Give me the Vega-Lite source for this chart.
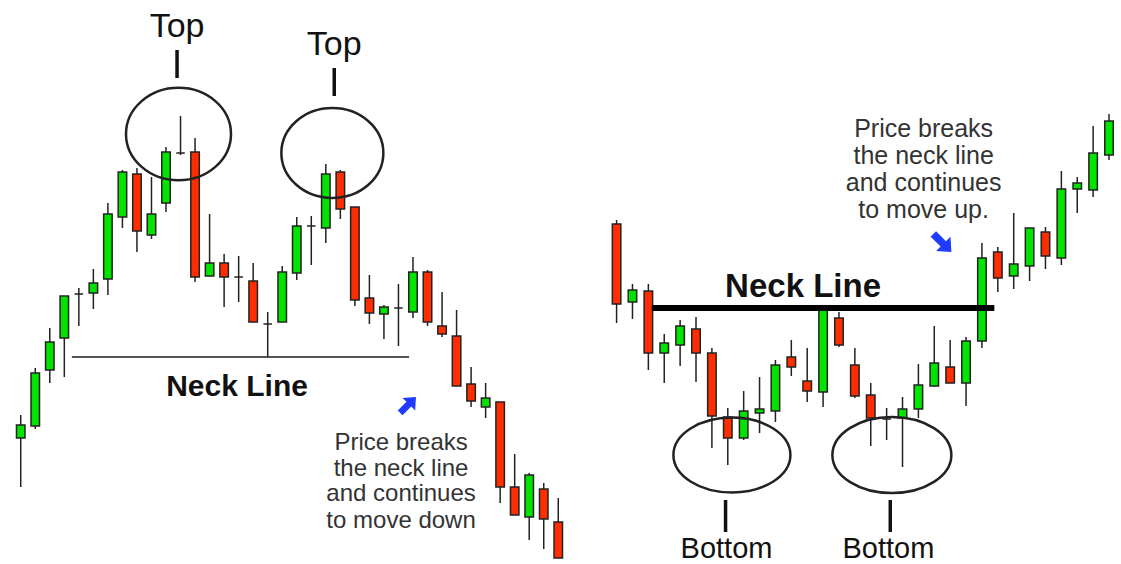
{
  "$schema": "https://vega.github.io/schema/vega-lite/v6.json",
  "padding": 0,
  "spacing": 0,
  "bounds": "flush",
  "background": "white",
  "config": {"view": {"stroke": null}, "text": {"font": "Liberation Sans"}},
  "datasets": {
    "left": [
      {"i":1,"o":126,"h":149,"l":77,"c":139},
      {"i":2,"o":138,"h":196,"l":135,"c":191},
      {"i":3,"o":194,"h":236,"l":181,"c":222},
      {"i":4,"o":226,"h":268,"l":187,"c":268},
      {"i":5,"o":270,"h":276,"l":238,"c":270},
      {"i":6,"o":271,"h":295,"l":255,"c":281},
      {"i":7,"o":285,"h":361,"l":269,"c":350},
      {"i":8,"o":347,"h":394,"l":336,"c":392},
      {"i":9,"o":390,"h":396,"l":312,"c":333},
      {"i":10,"o":329,"h":387,"l":325,"c":350},
      {"i":11,"o":361,"h":417,"l":352,"c":412},
      {"i":12,"o":411,"h":448,"l":409,"c":411},
      {"i":13,"o":412,"h":426,"l":282,"c":287},
      {"i":14,"o":288,"h":350,"l":288,"c":301},
      {"i":15,"o":301,"h":310,"l":257,"c":287},
      {"i":16,"o":287,"h":308,"l":262,"c":287},
      {"i":17,"o":283,"h":301,"l":242,"c":242},
      {"i":18,"o":240,"h":252,"l":207,"c":240},
      {"i":19,"o":242,"h":298,"l":242,"c":292},
      {"i":20,"o":291,"h":347,"l":284,"c":338},
      {"i":21,"o":338,"h":348,"l":299,"c":338},
      {"i":22,"o":336,"h":400,"l":321,"c":390},
      {"i":23,"o":392,"h":394,"l":345,"c":355},
      {"i":24,"o":357,"h":357,"l":258,"c":264},
      {"i":25,"o":266,"h":289,"l":240,"c":251},
      {"i":26,"o":250,"h":259,"l":225,"c":257},
      {"i":27,"o":256,"h":280,"l":218,"c":256},
      {"i":28,"o":252,"h":307,"l":246,"c":292},
      {"i":29,"o":292,"h":294,"l":238,"c":242},
      {"i":30,"o":238,"h":272,"l":227,"c":230},
      {"i":31,"o":228,"h":254,"l":178,"c":178},
      {"i":32,"o":180,"h":197,"l":157,"c":163},
      {"i":33,"o":157,"h":181,"l":146,"c":166},
      {"i":34,"o":162,"h":162,"l":61,"c":77},
      {"i":35,"o":77,"h":110,"l":49,"c":49},
      {"i":36,"o":47,"h":91,"l":24,"c":89},
      {"i":37,"o":75,"h":81,"l":15,"c":45},
      {"i":38,"o":42,"h":66,"l":6,"c":6}
    ],
    "right": [
      {"i":1,"o":340,"h":344,"l":241,"c":260},
      {"i":2,"o":262,"h":280,"l":245,"c":274},
      {"i":3,"o":273,"h":280,"l":194,"c":211},
      {"i":4,"o":211,"h":230,"l":181,"c":221},
      {"i":5,"o":219,"h":244,"l":198,"c":238},
      {"i":6,"o":235,"h":247,"l":182,"c":211},
      {"i":7,"o":211,"h":216,"l":116,"c":148},
      {"i":8,"o":147,"h":156,"l":99,"c":126},
      {"i":9,"o":126,"h":173,"l":124,"c":153},
      {"i":10,"o":151,"h":187,"l":131,"c":155},
      {"i":11,"o":153,"h":204,"l":142,"c":199},
      {"i":12,"o":207,"h":224,"l":188,"c":197},
      {"i":13,"o":183,"h":216,"l":162,"c":173},
      {"i":14,"o":172,"h":254,"l":157,"c":254},
      {"i":15,"o":246,"h":252,"l":217,"c":219},
      {"i":16,"o":199,"h":216,"l":166,"c":168},
      {"i":17,"o":169,"h":181,"l":118,"c":146},
      {"i":18,"o":145,"h":156,"l":124,"c":145},
      {"i":19,"o":146,"h":167,"l":97,"c":155},
      {"i":20,"o":155,"h":200,"l":146,"c":179},
      {"i":21,"o":178,"h":238,"l":177,"c":201},
      {"i":22,"o":197,"h":224,"l":181,"c":181},
      {"i":23,"o":181,"h":227,"l":158,"c":223},
      {"i":24,"o":223,"h":321,"l":216,"c":306},
      {"i":25,"o":312,"h":317,"l":272,"c":286},
      {"i":26,"o":288,"h":351,"l":275,"c":300},
      {"i":27,"o":298,"h":336,"l":283,"c":336},
      {"i":28,"o":332,"h":337,"l":295,"c":308},
      {"i":29,"o":306,"h":393,"l":299,"c":375},
      {"i":30,"o":375,"h":387,"l":351,"c":381},
      {"i":31,"o":374,"h":438,"l":367,"c":411},
      {"i":32,"o":409,"h":450,"l":404,"c":443}
    ]
  },
  "hconcat": [
    {
      "width": 590,
      "height": 564,
      "layer": [
        {
          "data": {"values": [{"i": 4.52, "i2": 27.73, "p": 207}]},
          "mark": {"type": "rule", "color": "#555555", "strokeWidth": 2},
          "encoding": {
            "x": {"field": "i", "type": "quantitative", "scale": {"domain": [-0.0825, 39.84], "nice": false, "zero": false}, "axis": null},
            "x2": {"field": "i2"},
            "y": {"field": "p", "type": "quantitative", "scale": {"domain": [0, 564], "nice": false, "zero": false}, "axis": null}
          }
        },
        {
          "data": {"name": "left"},
          "mark": {"type": "rule", "color": "#222222", "strokeWidth": 1.5},
          "encoding": {
            "x": {"field": "i", "type": "quantitative", "scale": {"domain": [-0.0825, 39.84], "nice": false, "zero": false}, "axis": null},
            "y": {"field": "l", "type": "quantitative", "scale": {"domain": [0, 564], "nice": false, "zero": false}, "axis": null},
            "y2": {"field": "h"}
          }
        },
        {
          "data": {"name": "left"},
          "mark": {"type": "bar", "size": 8.5, "stroke": "#222222", "strokeWidth": 1.5},
          "encoding": {
            "x": {"field": "i", "type": "quantitative", "scale": {"domain": [-0.0825, 39.84], "nice": false, "zero": false}, "axis": null},
            "y": {"field": "o", "type": "quantitative", "scale": {"domain": [0, 564], "nice": false, "zero": false}, "axis": null},
            "y2": {"field": "c"},
            "fill": {"condition": {"test": "datum.c >= datum.o", "value": "#00e400"}, "value": "#ff2d00"}
          }
        },
        {
          "data": {"values": [{"i": 11.86, "p": 430, "s": 11025}, {"i": 22.45, "p": 411, "s": 10404}]},
          "mark": {"type": "point", "shape": "M -1 0 A 1 0.88 0 1 1 1 0 A 1 0.88 0 1 1 -1 0 Z", "filled": false, "stroke": "#222222", "strokeWidth": 2.5, "opacity": 1},
          "encoding": {
            "x": {"field": "i", "type": "quantitative", "scale": {"domain": [-0.0825, 39.84], "nice": false, "zero": false}, "axis": null},
            "y": {"field": "p", "type": "quantitative", "scale": {"domain": [0, 564], "nice": false, "zero": false}, "axis": null},
            "size": {"field": "s", "type": "quantitative", "scale": null, "legend": null}
          }
        },
        {
          "data": {"values": [{"i": 11.76, "p": 514, "p2": 486}, {"i": 22.58, "p": 496, "p2": 468}]},
          "mark": {"type": "rule", "color": "#111111", "strokeWidth": 3.5},
          "encoding": {
            "x": {"field": "i", "type": "quantitative", "scale": {"domain": [-0.0825, 39.84], "nice": false, "zero": false}, "axis": null},
            "y": {"field": "p", "type": "quantitative", "scale": {"domain": [0, 564], "nice": false, "zero": false}, "axis": null},
            "y2": {"field": "p2"}
          }
        },
        {
          "data": {"values": [{"t": "Top", "i": 11.76, "p": 527}, {"t": "Top", "i": 22.58, "p": 509}]},
          "mark": {"type": "text", "fontSize": 34, "align": "center", "baseline": "alphabetic", "color": "#111111"},
          "encoding": {
            "x": {"field": "i", "type": "quantitative", "scale": {"domain": [-0.0825, 39.84], "nice": false, "zero": false}, "axis": null},
            "y": {"field": "p", "type": "quantitative", "scale": {"domain": [0, 564], "nice": false, "zero": false}, "axis": null},
            "text": {"field": "t"}
          }
        },
        {
          "data": {"values": [{"t": "Neck Line", "i": 15.89, "p": 168}]},
          "mark": {"type": "text", "fontSize": 30, "fontWeight": "bold", "align": "center", "baseline": "alphabetic", "color": "#111111"},
          "encoding": {
            "x": {"field": "i", "type": "quantitative", "scale": {"domain": [-0.0825, 39.84], "nice": false, "zero": false}, "axis": null},
            "y": {"field": "p", "type": "quantitative", "scale": {"domain": [0, 564], "nice": false, "zero": false}, "axis": null},
            "text": {"field": "t"}
          }
        },
        {
          "data": {"values": [
            {"t": "Price breaks", "i": 27.18, "p": 114},
            {"t": "the neck line", "i": 27.18, "p": 88},
            {"t": "and continues", "i": 27.18, "p": 63},
            {"t": "to move down", "i": 27.18, "p": 36}
          ]},
          "mark": {"type": "text", "fontSize": 24, "align": "center", "baseline": "alphabetic", "color": "#333333"},
          "encoding": {
            "x": {"field": "i", "type": "quantitative", "scale": {"domain": [-0.0825, 39.84], "nice": false, "zero": false}, "axis": null},
            "y": {"field": "p", "type": "quantitative", "scale": {"domain": [0, 564], "nice": false, "zero": false}, "axis": null},
            "text": {"field": "t"}
          }
        },
        {
          "data": {"values": [{"i": 27.66, "p": 159}]},
          "mark": {"type": "point", "shape": "M -1 -0.3 L 0.1 -0.3 L 0.1 -0.8 L 1 0 L 0.1 0.8 L 0.1 0.3 L -1 0.3 Z", "filled": true, "color": "#1e3bff", "opacity": 1, "size": 500, "angle": -45},
          "encoding": {
            "x": {"field": "i", "type": "quantitative", "scale": {"domain": [-0.0825, 39.84], "nice": false, "zero": false}, "axis": null},
            "y": {"field": "p", "type": "quantitative", "scale": {"domain": [0, 564], "nice": false, "zero": false}, "axis": null}
          }
        }
      ]
    },
    {
      "width": 531,
      "height": 564,
      "layer": [
        {
          "data": {"name": "right"},
          "mark": {"type": "rule", "color": "#222222", "strokeWidth": 1.5},
          "encoding": {
            "x": {"field": "i", "type": "quantitative", "scale": {"domain": [-0.359, 32.44], "nice": false, "zero": false}, "axis": null},
            "y": {"field": "l", "type": "quantitative", "scale": {"domain": [0, 564], "nice": false, "zero": false}, "axis": null},
            "y2": {"field": "h"}
          }
        },
        {
          "data": {"name": "right"},
          "mark": {"type": "bar", "size": 8.5, "stroke": "#222222", "strokeWidth": 1.5},
          "encoding": {
            "x": {"field": "i", "type": "quantitative", "scale": {"domain": [-0.359, 32.44], "nice": false, "zero": false}, "axis": null},
            "y": {"field": "o", "type": "quantitative", "scale": {"domain": [0, 564], "nice": false, "zero": false}, "axis": null},
            "y2": {"field": "c"},
            "fill": {"condition": {"test": "datum.c >= datum.o", "value": "#00e400"}, "value": "#ff2d00"}
          }
        },
        {
          "data": {"values": [{"i": 3.22, "i2": 24.78, "p": 256}]},
          "mark": {"type": "rule", "color": "#000000", "strokeWidth": 6},
          "encoding": {
            "x": {"field": "i", "type": "quantitative", "scale": {"domain": [-0.359, 32.44], "nice": false, "zero": false}, "axis": null},
            "x2": {"field": "i2"},
            "y": {"field": "p", "type": "quantitative", "scale": {"domain": [0, 564], "nice": false, "zero": false}, "axis": null}
          }
        },
        {
          "data": {"values": [{"i": 8.26, "p": 109, "s": 13689}, {"i": 18.33, "p": 109, "s": 14161}]},
          "mark": {"type": "point", "shape": "M -1 0 A 1 0.64 0 1 1 1 0 A 1 0.64 0 1 1 -1 0 Z", "filled": false, "stroke": "#222222", "strokeWidth": 2.5, "opacity": 1},
          "encoding": {
            "x": {"field": "i", "type": "quantitative", "scale": {"domain": [-0.359, 32.44], "nice": false, "zero": false}, "axis": null},
            "y": {"field": "p", "type": "quantitative", "scale": {"domain": [0, 564], "nice": false, "zero": false}, "axis": null},
            "size": {"field": "s", "type": "quantitative", "scale": null, "legend": null}
          }
        },
        {
          "data": {"values": [{"i": 7.86, "p": 64, "p2": 32}, {"i": 18.23, "p": 64, "p2": 32}]},
          "mark": {"type": "rule", "color": "#111111", "strokeWidth": 3.5},
          "encoding": {
            "x": {"field": "i", "type": "quantitative", "scale": {"domain": [-0.359, 32.44], "nice": false, "zero": false}, "axis": null},
            "y": {"field": "p", "type": "quantitative", "scale": {"domain": [0, 564], "nice": false, "zero": false}, "axis": null},
            "y2": {"field": "p2"}
          }
        },
        {
          "data": {"values": [{"t": "Bottom", "i": 7.92, "p": 6}, {"t": "Bottom", "i": 18.11, "p": 6}]},
          "mark": {"type": "text", "fontSize": 29, "align": "center", "baseline": "alphabetic", "color": "#111111"},
          "encoding": {
            "x": {"field": "i", "type": "quantitative", "scale": {"domain": [-0.359, 32.44], "nice": false, "zero": false}, "axis": null},
            "y": {"field": "p", "type": "quantitative", "scale": {"domain": [0, 564], "nice": false, "zero": false}, "axis": null},
            "text": {"field": "t"}
          }
        },
        {
          "data": {"values": [{"t": "Neck Line", "i": 12.74, "p": 267}]},
          "mark": {"type": "text", "fontSize": 33, "fontWeight": "bold", "align": "center", "baseline": "alphabetic", "color": "#111111"},
          "encoding": {
            "x": {"field": "i", "type": "quantitative", "scale": {"domain": [-0.359, 32.44], "nice": false, "zero": false}, "axis": null},
            "y": {"field": "p", "type": "quantitative", "scale": {"domain": [0, 564], "nice": false, "zero": false}, "axis": null},
            "text": {"field": "t"}
          }
        },
        {
          "data": {"values": [
            {"t": "Price breaks", "i": 20.33, "p": 427},
            {"t": "the neck line", "i": 20.33, "p": 400},
            {"t": "and continues", "i": 20.33, "p": 373},
            {"t": "to move up.", "i": 20.33, "p": 346}
          ]},
          "mark": {"type": "text", "fontSize": 25, "align": "center", "baseline": "alphabetic", "color": "#333333"},
          "encoding": {
            "x": {"field": "i", "type": "quantitative", "scale": {"domain": [-0.359, 32.44], "nice": false, "zero": false}, "axis": null},
            "y": {"field": "p", "type": "quantitative", "scale": {"domain": [0, 564], "nice": false, "zero": false}, "axis": null},
            "text": {"field": "t"}
          }
        },
        {
          "data": {"values": [{"i": 21.51, "p": 321}]},
          "mark": {"type": "point", "shape": "M -1 -0.3 L 0.1 -0.3 L 0.1 -0.8 L 1 0 L 0.1 0.8 L 0.1 0.3 L -1 0.3 Z", "filled": true, "color": "#1e3bff", "opacity": 1, "size": 650, "angle": 45},
          "encoding": {
            "x": {"field": "i", "type": "quantitative", "scale": {"domain": [-0.359, 32.44], "nice": false, "zero": false}, "axis": null},
            "y": {"field": "p", "type": "quantitative", "scale": {"domain": [0, 564], "nice": false, "zero": false}, "axis": null}
          }
        }
      ]
    }
  ]
}
